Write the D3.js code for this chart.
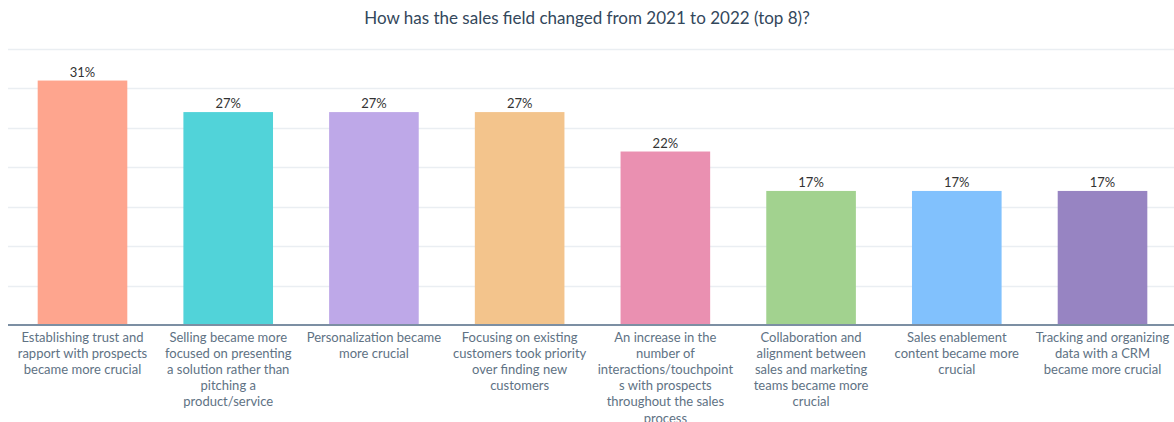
<!DOCTYPE html>
<html>
<head>
<meta charset="utf-8">
<script src="https://cdn.jsdelivr.net/npm/d3@7"></script>
<style>
  html, body { margin: 0; padding: 0; background: #ffffff; }
  svg { display: block; }
</style>
</head>
<body>
<svg id="chart" width="1174" height="422"></svg>
<script>
// Survey answers, one bar each; "\n" marks a line break in the axis label.
const categories = [
  "Establishing trust and\nrapport with prospects\nbecame more crucial",
  "Selling became more\nfocused on presenting\na solution rather than\npitching a\nproduct/service",
  "Personalization became\nmore crucial",
  "Focusing on existing\ncustomers took priority\nover finding new\ncustomers",
  "An increase in the\nnumber of\ninteractions/touchpoint\ns with prospects\nthroughout the sales\nprocess",
  "Collaboration and\nalignment between\nsales and marketing\nteams became more\ncrucial",
  "Sales enablement\ncontent became more\ncrucial",
  "Tracking and organizing\ndata with a CRM\nbecame more crucial"
];
const values = [31, 27, 27, 27, 22, 17, 17, 17];
const barColors = ["#fea58e", "#51d3d9", "#bea8e8", "#f3c48c", "#ea90b1", "#a2d28f", "#81c1fd", "#9784c2"];
const gridTicks = [0, 5, 10, 15, 20, 25, 30, 35];
const title = "How has the sales field changed from 2021 to 2022 (top 8)?";

const svg = d3.select("#chart");
const font = "Lato, 'Open Sans', sans-serif";

const plot = { left: 10, right: 1175, top: 49, bottom: 325 };

const x = d3.scaleBand()
  .domain(d3.range(categories.length))
  .range([plot.left, plot.right])
  .paddingInner(0.385)
  .paddingOuter(0.19);

const y = d3.scaleLinear()
  .domain([0, 35])
  .range([plot.bottom, plot.top]);

// Title
svg.append("text")
  .attr("x", 587)
  .attr("y", 24)
  .attr("text-anchor", "middle")
  .attr("font-family", font)
  .attr("font-size", 17)
  .attr("fill", "#33475b")
  .text(title);

// Horizontal gridlines
svg.append("g")
  .selectAll("line")
  .data(gridTicks.filter(t => t > 0))
  .join("line")
  .attr("x1", 8)
  .attr("x2", 1174)
  .attr("y1", d => Math.round(y(d)) + 0.5)
  .attr("y2", d => Math.round(y(d)) + 0.5)
  .attr("stroke", "#eaeef2")
  .attr("stroke-width", 1.5);

// Bars
svg.append("g")
  .selectAll("rect")
  .data(values)
  .join("rect")
  .attr("x", (d, i) => x(i))
  .attr("width", x.bandwidth())
  .attr("y", d => y(d))
  .attr("height", d => y(0) - y(d))
  .attr("fill", (d, i) => barColors[i]);

// Value labels
svg.append("g")
  .selectAll("text")
  .data(values)
  .join("text")
  .attr("x", (d, i) => x(i) + x.bandwidth() / 2)
  .attr("y", d => y(d) - 4)
  .attr("text-anchor", "middle")
  .attr("font-family", font)
  .attr("font-size", 13)
  .attr("fill", "#333333")
  .text(d => d + "%");

// Category axis
const xAxis = d3.axisBottom(x).tickSize(0).tickFormat("");
const axisG = svg.append("g")
  .attr("transform", `translate(0,${y(0)})`)
  .call(xAxis);
axisG.select(".domain")
  .attr("d", `M8,0H1174`)
  .attr("stroke", "#7c8fa3")
  .attr("stroke-width", 2);

axisG.selectAll(".tick").each(function (d) {
  const lines = categories[d].split("\n");
  const t = d3.select(this).append("text")
    .attr("text-anchor", "middle")
    .attr("font-family", font)
    .attr("font-size", 13)
    .attr("fill", "#607284")
    .attr("y", 17);
  lines.forEach((ln, k) => {
    t.append("tspan").attr("x", 0).attr("dy", k === 0 ? 0 : 16.1).text(ln);
  });
});
</script>
</body>
</html>
